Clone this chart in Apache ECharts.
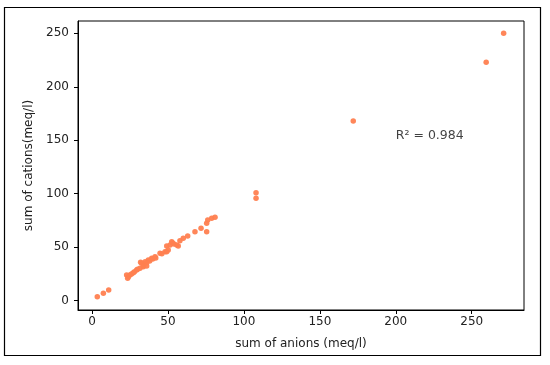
<!DOCTYPE html>
<html>
<head>
<meta charset="utf-8">
<script src="https://cdn.jsdelivr.net/npm/echarts@6/dist/echarts.min.js"></script>
<style>html,body{margin:0;padding:0;background:#fff;}#c{width:550px;height:365px;}</style>
</head>
<body>
<div id="c"></div>
<script>
// sum of anions (meq/l)
var anions = [271, 259.5, 172, 108, 108, 3.5, 7.5, 11, 22.8, 23.5, 25, 27.2, 29.4, 31.6, 32.7, 33.8, 36, 37.1, 39.3, 41.5, 44.8, 48.1, 49.2, 50.2, 51.4, 52.5, 55.8, 57.9, 60.1, 63, 67.8, 71.8, 75.5, 75.5, 76.2, 78.8, 81,
  24, 26, 28, 30, 34, 35, 38, 40, 42, 46, 53, 54, 32, 36, 49.2, 56.8];
// sum of cations (meq/l)
var cations = [250, 223, 168, 101, 95.7, 3.7, 6.9, 10, 24, 20.9, 24, 26.2, 28.7, 30.3, 35, 31.8, 35.5, 38.1, 39.6, 41.1, 44.3, 45.8, 51.1, 47.4, 52.1, 55.2, 52.1, 56.1, 58.3, 60.5, 64.5, 67.7, 72.4, 64.5, 75.4, 77, 78,
  22.5, 25, 27, 29.5, 33, 36.5, 37, 39, 40, 44, 54, 53, 36, 32.5, 45.8, 51.1];
var xTicks = [0, 50, 100, 150, 200, 250];
var yTicks = [0, 50, 100, 150, 200, 250];
var r2Label = 'R² = 0.984';
var r2Pos = [200, 150];

var pts = anions.map(function (a, i) { return [a, cations[i]]; });
var font = 'DejaVu Sans';
var chart = echarts.init(document.getElementById('c'), null, {renderer: 'canvas'});
chart.setOption({
  animation: false,
  backgroundColor: '#fff',
  grid: {left: 78, right: 26, top: 21, bottom: 55, show: true, borderColor: '#000', borderWidth: 1, backgroundColor: 'transparent'},
  xAxis: {
    type: 'value', min: -9.2, max: 284.4,
    splitLine: {show: false},
    axisLine: {show: true, onZero: false, lineStyle: {color: '#000'}},
    axisTick: {show: true, length: 4, customValues: xTicks, lineStyle: {color: '#000'}},
    axisLabel: {customValues: xTicks, margin: 6, color: '#222', fontFamily: font, fontSize: 12},
    name: 'sum of anions (meq/l)', nameLocation: 'middle', nameGap: 28,
    nameTextStyle: {color: '#222', fontFamily: font, fontSize: 12}
  },
  yAxis: {
    type: 'value', min: -8.7, max: 261.5,
    splitLine: {show: false},
    axisLine: {show: true, onZero: false, lineStyle: {color: '#000'}},
    axisTick: {show: true, length: 4, customValues: yTicks, lineStyle: {color: '#000'}},
    axisLabel: {customValues: yTicks, margin: 9, color: '#222', fontFamily: font, fontSize: 12},
    name: 'sum of cations(meq/l)', nameLocation: 'middle', nameGap: 41,
    nameTextStyle: {color: '#222', fontFamily: font, fontSize: 12}
  },
  graphic: [{
    type: 'rect', shape: {x: 4.5, y: 7.5, width: 536, height: 348},
    style: {fill: 'none', stroke: '#000', lineWidth: 1.2}, z: -1
  }],
  series: [{
    type: 'scatter', data: pts, symbolSize: 5.5,
    itemStyle: {color: '#FF7F50', opacity: 0.95}
  }, {
    type: 'scatter', data: [r2Pos], symbolSize: 0, silent: true,
    label: {show: true, formatter: r2Label, position: [0, -11], align: 'left',
      color: '#111', fontFamily: font, fontSize: 12.5}
  }]
});
</script>
</body>
</html>
